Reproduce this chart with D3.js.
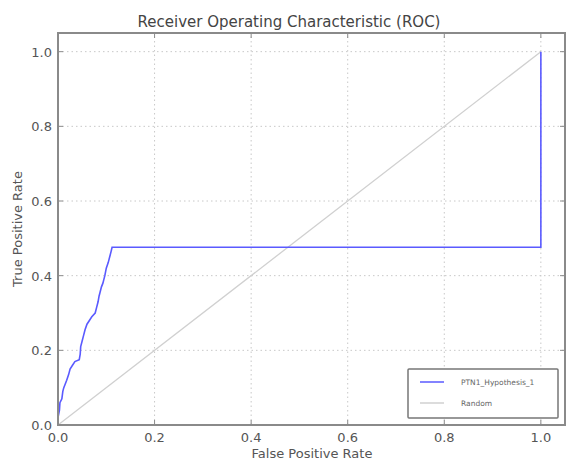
<!DOCTYPE html>
<html><head><meta charset="utf-8">
<script src="https://cdn.jsdelivr.net/npm/d3@7"></script>
<style>body{margin:0;background:#fff}svg{display:block;font-family:"DejaVu Sans",sans-serif}</style>
</head><body><svg id="c" width="566" height="461"></svg>
<script>
const fpr = [0, 0, 0.003, 0.004, 0.008, 0.010, 0.012, 0.015, 0.018, 0.022, 0.025, 0.030, 0.035, 0.044, 0.046, 0.047, 0.050, 0.053, 0.056, 0.060, 0.065, 0.070, 0.077, 0.080, 0.083, 0.085, 0.087, 0.090, 0.093, 0.095, 0.097, 0.100, 0.104, 0.107, 0.110, 0.112, 0.118, 1.0, 1.0];
const tpr = [0, 0.02, 0.04, 0.06, 0.07, 0.09, 0.10, 0.11, 0.12, 0.135, 0.15, 0.16, 0.17, 0.175, 0.19, 0.21, 0.225, 0.24, 0.255, 0.27, 0.28, 0.29, 0.30, 0.315, 0.33, 0.345, 0.355, 0.37, 0.38, 0.39, 0.40, 0.42, 0.435, 0.45, 0.465, 0.476, 0.476, 0.476, 1.0];
const randX = [0, 1];
const randY = [0, 1];
const ticks = [0, 0.2, 0.4, 0.6, 0.8, 1.0];
const seriesNames = ["PTN1_Hypothesis_1", "Random"];
const colors = ["#5a5aff", "#d0d0d0"];

const svg = d3.select("#c");
const x = d3.scaleLinear().domain([0, 1.05]).range([58, 565]);
const y = d3.scaleLinear().domain([0, 1.05]).range([425, 33]);

// grid
const g = svg.append("g");
ticks.forEach(t => {
  g.append("line").attr("x1", x(t)).attr("x2", x(t)).attr("y1", y(0)).attr("y2", y(1.05))
    .attr("stroke", "#c8c8c8").attr("stroke-width", 1).attr("stroke-dasharray", "1.5,3");
  g.append("line").attr("y1", y(t)).attr("y2", y(t)).attr("x1", x(0)).attr("x2", x(1.05))
    .attr("stroke", "#c8c8c8").attr("stroke-width", 1).attr("stroke-dasharray", "1.5,3");
});

// random line
const line = d3.line().x(d => x(d[0])).y(d => y(d[1]));
svg.append("path").datum(randX.map((v, i) => [v, randY[i]])).attr("d", line)
  .attr("fill", "none").attr("stroke", colors[1]).attr("stroke-width", 1.3);
// roc
svg.append("path").datum(fpr.map((v, i) => [v, tpr[i]])).attr("d", line)
  .attr("fill", "none").attr("stroke", colors[0]).attr("stroke-width", 1.6);

// frame
svg.append("rect").attr("x", x(0)).attr("y", y(1.05)).attr("width", x(1.05) - x(0)).attr("height", y(0) - y(1.05))
  .attr("fill", "none").attr("stroke", "#8a8a8a").attr("stroke-width", 2);

// ticks inward
ticks.forEach(t => {
  svg.append("line").attr("x1", x(t)).attr("x2", x(t)).attr("y1", y(0)).attr("y2", y(0) - 5).attr("stroke", "#8a8a8a");
  svg.append("line").attr("x1", x(t)).attr("x2", x(t)).attr("y1", y(1.05)).attr("y2", y(1.05) + 5).attr("stroke", "#8a8a8a");
  svg.append("line").attr("y1", y(t)).attr("y2", y(t)).attr("x1", x(0)).attr("x2", x(0) + 5).attr("stroke", "#8a8a8a");
  svg.append("line").attr("y1", y(t)).attr("y2", y(t)).attr("x1", x(1.05)).attr("x2", x(1.05) - 5).attr("stroke", "#8a8a8a");
  svg.append("text").attr("x", x(t)).attr("y", y(0) + 17).attr("text-anchor", "middle")
    .attr("font-size", 13).attr("fill", "#555").text(t.toFixed(1));
  svg.append("text").attr("x", x(0) - 6).attr("y", y(t) + 5).attr("text-anchor", "end")
    .attr("font-size", 13).attr("fill", "#555").text(t.toFixed(1));
});

svg.append("text").attr("x", 289).attr("y", 27).attr("text-anchor", "middle")
  .attr("font-size", 15).attr("fill", "#444").text("Receiver Operating Characteristic (ROC)");
svg.append("text").attr("x", 312).attr("y", 458).attr("text-anchor", "middle")
  .attr("font-size", 13).attr("fill", "#555").text("False Positive Rate");
svg.append("text").attr("transform", "translate(22,229) rotate(-90)").attr("text-anchor", "middle")
  .attr("font-size", 13).attr("fill", "#555").text("True Positive Rate");

// legend
const lg = svg.append("g");
lg.append("rect").attr("x", 408).attr("y", 369).attr("width", 150).attr("height", 49)
  .attr("fill", "#fff").attr("stroke", "#777").attr("stroke-width", 1.5).attr("rx", 1);
seriesNames.forEach((n, i) => {
  const yy = 382 + i * 21;
  lg.append("line").attr("x1", 420).attr("x2", 444).attr("y1", yy).attr("y2", yy)
    .attr("stroke", colors[i]).attr("stroke-width", 1.5);
  lg.append("text").attr("x", 461).attr("y", yy + 3).attr("font-size", 7.5).attr("fill", "#666").text(n);
});
</script></body></html>
